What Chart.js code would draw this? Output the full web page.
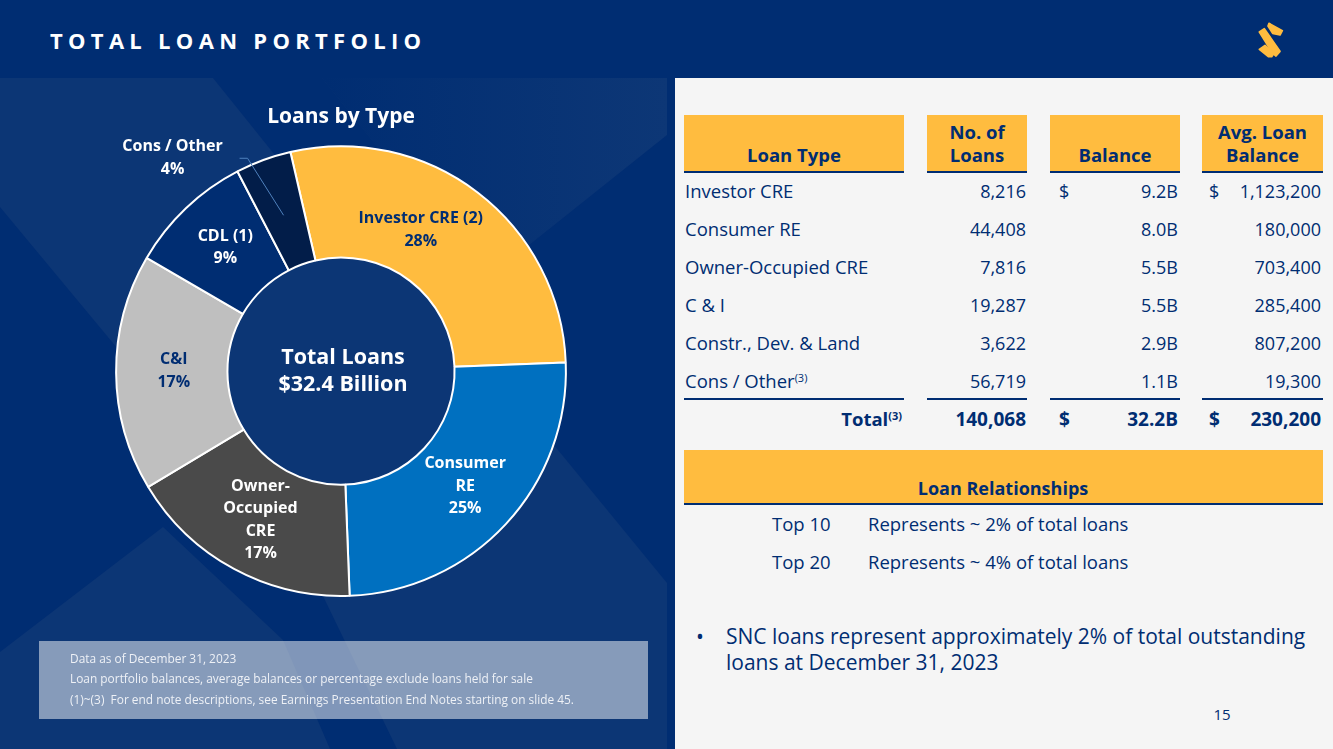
<!DOCTYPE html>
<html>
<head>
<meta charset="utf-8">
<title>Total Loan Portfolio</title>
<script src="https://cdn.jsdelivr.net/npm/chart.js@4"></script>
<style>
    html, body { margin: 0; padding: 0; }
    body { width: 1333px; height: 749px; overflow: hidden; background: #002d72; font-family: "Open Sans", sans-serif; }
    #slide { position: relative; width: 1333px; height: 749px; overflow: hidden; color: #002d72; }
    #backdrop { position: absolute; left: 0; top: 78px; }
    #loanChart { position: absolute; left: 0; top: 78px; }
    #panel { position: absolute; left: 675px; top: 78px; width: 658px; height: 671px; background: #f5f5f5; }
    #logo { position: absolute; left: 1230px; top: 10px; }
    #notes { position: absolute; left: 39px; top: 641px; width: 609px; height: 78px; background: rgba(255, 255, 255, 0.5); }
    .txt { position: absolute; white-space: nowrap; }
    .bar { position: absolute; background: #ffbc3f; border-bottom: 2px solid #002d72; box-sizing: border-box; }
    .rule { position: absolute; height: 2px; background: #002d72; }
    sup { font-size: 11px; line-height: 0; vertical-align: 6px; }
</style>
</head>
<body>
<div id="slide">
    <svg id="backdrop" width="667" height="671" viewBox="0 78 667 671">
        <defs>
            <linearGradient id="fade" x1="0" x2="1" y1="0" y2="0">
                <stop offset="0" stop-color="#002d72"/>
                <stop offset="1" stop-color="#0d3776"/>
            </linearGradient>
        </defs>
        <rect x="0" y="78" width="667" height="671" fill="#0c3675"/>
        <polygon points="322,78 667,78 667,135 445,312 412,190" fill="url(#fade)"/>
        <polygon points="213,78 322,78 412,190 311,200" fill="#002d72"/>
        <polygon points="667,135 445,312 667,583" fill="#002d72"/>
        <polygon points="0,207 323,596 397,749 330,749 283,640 163,527 0,652" fill="#002d72"/>
    </svg>
    <canvas id="loanChart" width="675" height="671"></canvas>
    <div id="panel"></div>
    <svg id="logo" width="80" height="60" viewBox="0 0 240 180">
        <g fill="#ffbc3f" stroke="#ffbc3f" stroke-width="5" stroke-linejoin="round">
            <polygon points="117,40 157,62 150,75 128,70 114,48"/>
            <polygon points="88,66 103,56 150,124 138,138 128,130"/>
            <polygon points="88,118 105,106 132,130 125,140 115,140"/>
        </g>
    </svg>
    <div id="notes"></div>
</div>

<script>
// Donut slices
const sliceNames = ['Investor CRE', 'Consumer RE', 'Owner-Occupied CRE', 'C&I', 'CDL', 'Cons / Other'];
const sliceValues = [28, 25, 17, 17, 9, 4];
const sliceLabels = [
    ['Investor CRE (2)', '28%'],
    ['Consumer', 'RE', '25%'],
    ['Owner-', 'Occupied', 'CRE', '17%'],
    ['C&I', '17%'],
    ['CDL (1)', '9%'],
    ['Cons / Other', '4%']
];
const centerLines = ['Total Loans', '$32.4 Billion'];

// Loan table
const tableHeads = [['Loan Type'], ['No. of', 'Loans'], ['Balance'], ['Avg. Loan', 'Balance']];
const loanTypes = ['Investor CRE', 'Consumer RE', 'Owner-Occupied CRE', 'C &amp; I', 'Constr., Dev. &amp; Land', 'Cons / Other<sup>(3)</sup>'];
const loanCounts = ['8,216', '44,408', '7,816', '19,287', '3,622', '56,719'];
const loanBalances = ['9.2B', '8.0B', '5.5B', '5.5B', '2.9B', '1.1B'];
const avgBalances = ['1,123,200', '180,000', '703,400', '285,400', '807,200', '19,300'];
const totalRow = ['140,068', '32.2B', '230,200'];

// Relationships and notes
const topGroups = ['Top 10', 'Top 20'];
const topShares = ['Represents ~ 2% of total loans', 'Represents ~ 4% of total loans'];
const footNotes = [
    'Data as of December 31, 2023',
    'Loan portfolio balances, average balances or percentage exclude loans held for sale',
    '(1)~(3)&nbsp; For end note descriptions, see Earnings Presentation End Notes starting on slide 45.'
];

const NAVY = '#002d72';
const sliceColors = ['#ffbc3f', '#0070c0', '#4a4a4a', '#bfbfbf', '#002d72', '#021d49'];
const labelColors = [NAVY, '#ffffff', '#ffffff', NAVY, '#ffffff', '#ffffff'];
const labelShift = [[-23, -6.5], [0, 0], [0, 0], [2, -1.5], [1, -1], [-110, -54.5]];

const slide = document.getElementById('slide');

// Puts one line of text with its vertical centre at y
function putText(html, x, y, size, opts) {
    opts = opts || {};
    const el = document.createElement('div');
    el.className = 'txt';
    el.innerHTML = html;
    el.style.fontSize = size + 'px';
    el.style.lineHeight = '30px';
    el.style.top = (y - 15) + 'px';
    if (opts.bold) el.style.fontWeight = '700';
    if (opts.color) el.style.color = opts.color;
    if (opts.spacing) el.style.letterSpacing = opts.spacing + 'px';
    if (opts.align === 'right') {
        el.style.right = (1333 - x) + 'px';
    } else if (opts.align === 'center') {
        el.style.left = x + 'px';
        el.style.transform = 'translateX(-50%)';
    } else {
        el.style.left = x + 'px';
    }
    slide.appendChild(el);
}

function putBar(left, right, top, bottom) {
    const bar = document.createElement('div');
    bar.className = 'bar';
    bar.style.left = left + 'px';
    bar.style.width = (right - left) + 'px';
    bar.style.top = top + 'px';
    bar.style.height = (bottom - top) + 'px';
    slide.appendChild(bar);
}

function putRule(left, right, y) {
    const rule = document.createElement('div');
    rule.className = 'rule';
    rule.style.left = left + 'px';
    rule.style.width = (right - left) + 'px';
    rule.style.top = y + 'px';
    slide.appendChild(rule);
}

function drawHeader() {
    putText('TOTAL LOAN PORTFOLIO', 50, 39.5, 22, { bold: true, color: '#ffffff', spacing: 5.3 });
    putText('15', 1222, 714, 15, { align: 'center' });
}

function drawTable() {
    const columns = [[684, 904], [927, 1027], [1050, 1180], [1202, 1323]];
    columns.forEach((col, i) => {
        putBar(col[0], col[1], 115, 173);
        putRule(col[0], col[1], 398);
        const middle = (col[0] + col[1]) / 2;
        const lines = tableHeads[i];
        lines.forEach((line, k) => {
            const y = 155 - (lines.length - 1 - k) * 23;
            putText(line, middle, y, 18.5, { bold: true, align: 'center' });
        });
    });

    loanTypes.forEach((name, i) => {
        const y = 191 + i * 38;
        putText(name, 685, y, 18.5);
        putText(loanCounts[i], 1026, y, 18, { align: 'right' });
        putText(loanBalances[i], 1178, y, 18, { align: 'right' });
        putText(avgBalances[i], 1321, y, 18, { align: 'right' });
    });
    putText('$', 1059, 191, 18);
    putText('$', 1209, 191, 18);

    putText('Total<sup>(3)</sup>', 902, 419, 18.5, { bold: true, align: 'right' });
    putText(totalRow[0], 1026, 419, 19, { bold: true, align: 'right' });
    putText('$', 1059, 419, 19, { bold: true });
    putText(totalRow[1], 1178, 419, 19, { bold: true, align: 'right' });
    putText('$', 1209, 419, 19, { bold: true });
    putText(totalRow[2], 1321, 419, 19, { bold: true, align: 'right' });
}

function drawRelationships() {
    putBar(684, 1323, 450, 505);
    putText('Loan Relationships', 1003, 488, 18, { bold: true, align: 'center' });
    topGroups.forEach((group, i) => {
        const y = 524 + i * 38;
        putText(group, 772, y, 18.5);
        putText(topShares[i], 868, y, 18.5);
    });
    putText('•', 696, 636, 21);
    putText('SNC loans represent approximately 2% of total outstanding', 726, 636, 21);
    putText('loans at December 31, 2023', 726, 662, 21);
}

function drawNotes() {
    const noteRows = [658, 678, 699];
    footNotes.forEach((note, i) => {
        putText(note, 70, noteRows[i], 11.9, { color: '#eef1f6' });
    });
}

// Slice captions, the leader line for the thin slice and the text in the hole
const donutText = {
    id: 'donutText',
    afterDraw(chart) {
        const ctx = chart.ctx;
        const arcs = chart.getDatasetMeta(0).data;
        ctx.save();
        ctx.textAlign = 'center';
        ctx.textBaseline = 'middle';

        ctx.font = '700 16px "Open Sans"';
        arcs.forEach((arc, i) => {
            const c = arc.getCenterPoint();
            const lines = sliceLabels[i];
            const x = c.x + labelShift[i][0];
            const y = c.y + labelShift[i][1];
            ctx.fillStyle = labelColors[i];
            lines.forEach((line, k) => {
                ctx.fillText(line, x, y + (k - (lines.length - 1) / 2) * 22.5);
            });
        });

        const thin = arcs[5].getCenterPoint();
        ctx.strokeStyle = '#4f81bd';
        ctx.lineWidth = 1;
        ctx.beginPath();
        ctx.moveTo(thin.x + 1, thin.y + 3);
        ctx.lineTo(thin.x - 35, thin.y - 54);
        ctx.lineTo(thin.x - 43, thin.y - 54);
        ctx.stroke();

        const hole = arcs[0];
        ctx.fillStyle = '#ffffff';
        ctx.font = '700 21.5px "Open Sans"';
        centerLines.forEach((line, k) => {
            ctx.fillText(line, hole.x + 2, hole.y - 13 + k * 27);
        });
        ctx.restore();
    }
};

function loadChart() {
    new Chart(document.getElementById('loanChart').getContext('2d'), {
        type: 'doughnut',
        data: {
            labels: sliceNames,
            datasets: [{
                data: sliceValues,
                backgroundColor: sliceColors,
                borderColor: '#ffffff',
                borderWidth: 2
            }]
        },
        options: {
            responsive: false,
            animation: false,
            rotation: -13,
            cutout: '50.5%',
            layout: { padding: { left: 115, right: 108, top: 0, bottom: 152 } },
            plugins: {
                legend: { display: false },
                tooltip: { enabled: false },
                title: {
                    display: true,
                    text: 'Loans by Type',
                    color: '#ffffff',
                    font: { family: '"Open Sans"', size: 21, weight: '700' },
                    padding: { top: 26, bottom: 16 }
                }
            }
        },
        plugins: [donutText]
    });
}

drawHeader();
drawTable();
drawRelationships();
drawNotes();
loadChart();
</script>
</body>
</html>
